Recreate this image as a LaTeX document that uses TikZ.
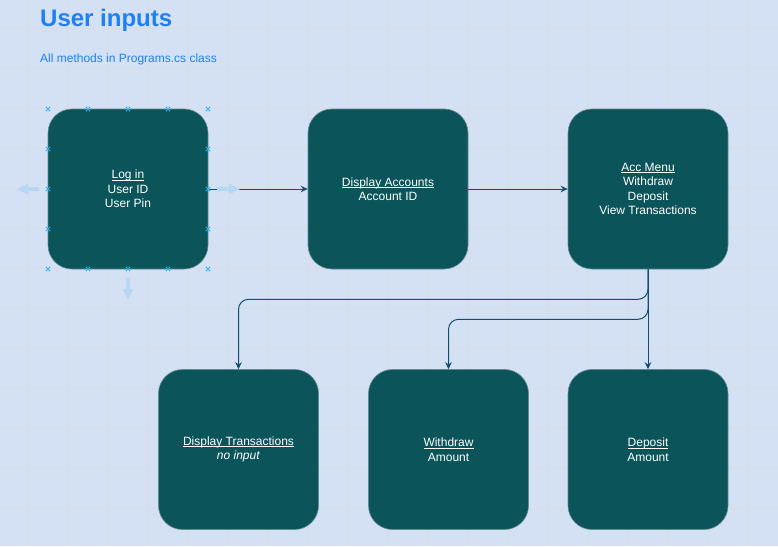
\documentclass[tikz,border=0pt]{standalone}
\usepackage{fontspec}
\setmainfont{Liberation Sans}
\usetikzlibrary{arrows.meta}
\definecolor{bgc}{HTML}{D4E1F5}
\definecolor{gridc}{HTML}{D8DCE3}
\definecolor{boxc}{HTML}{0B5459}
\definecolor{boxline}{HTML}{5F8C93}
\definecolor{linkc}{HTML}{124F6C}
\definecolor{titlec}{HTML}{1E80F2}
\definecolor{handlec}{HTML}{29B6F2}
\definecolor{hoverc}{HTML}{B6D8F3}
\newcommand\ulx[1]{\setbox0\hbox{#1}\rlap{\rule[-1.6pt]{\wd0}{0.6pt}}\box0}
\tikzset{
  stepbox/.style={rounded corners=24pt, minimum width=160pt, minimum height=160pt,
    fill=boxc, draw=boxline, line width=0.6pt, text=white, align=center, inner sep=0pt,
    font=\fontsize{12}{14.5}\selectfont},
  link/.style={draw=linkc, line width=1pt, -{Stealth[length=7pt,width=6.5pt]}},
  handle/.style={draw=handlec, line width=0.9pt},
  hover/.style={fill=hoverc, draw=none}
}
\begin{document}
\begin{tikzpicture}[x=1pt,y=-1pt]
\fill[bgc] (0,0) rectangle (778,546);
\useasboundingbox (0,0) rectangle (778,546);
% grid
\foreach \gx in {28,68,...,768} \draw[gridc, line width=0.8pt] (\gx,0) -- (\gx,546);
\foreach \gy in {28,68,...,546} \draw[gridc, line width=0.8pt] (0,\gy) -- (778,\gy);
% titles
\node[anchor=base west, inner sep=0pt, text=titlec, font=\fontsize{24}{28}\selectfont\bfseries] (title) at (40,27) {User inputs};
\node[anchor=base west, inner sep=0pt, text=titlec, font=\fontsize{12}{14}\selectfont] (sub) at (40,62) {All methods in Programs.cs class};
% boxes
\node[stepbox] (login) at (128,189) {\ulx{Log in}\\User ID\\User Pin};
\node[stepbox] (disp) at (388,189) {\ulx{Display Accounts}\\Account ID};
\node[stepbox] (acc) at (648,189) {\ulx{Acc Menu}\\Withdraw\\Deposit\\View Transactions};
\node[stepbox] (dt) at (238.5,449.5) {\ulx{Display Transactions}\\\textit{no input}};
\node[stepbox] (wd) at (448.5,449.5) {\ulx{Withdraw}\\Amount};
\node[stepbox] (dep) at (648,449.5) {\ulx{Deposit}\\Amount};
% connectors
\draw[link] (login.east) -- (disp.west);
\draw[link] (disp.east) -- (acc.west);
\draw[link] (acc.south) -- (dep.north);
\draw[link, rounded corners=10pt] (acc.south) -- ++(0,30) -| (dt.north);
\draw[link, rounded corners=10pt] (acc.south) -- ++(0,50) -| (wd.north);
% selection handles
\foreach \hx in {48,88,128,168,208} {
  \draw[handle] (\hx-2.2,106.8) -- (\hx+2.2,111.2) (\hx-2.2,111.2) -- (\hx+2.2,106.8);
  \draw[handle] (\hx-2.2,266.8) -- (\hx+2.2,271.2) (\hx-2.2,271.2) -- (\hx+2.2,266.8);
}
\foreach \hy in {149,189,229} {
  \draw[handle] (45.8,\hy-2.2) -- (50.2,\hy+2.2) (45.8,\hy+2.2) -- (50.2,\hy-2.2);
  \draw[handle] (205.8,\hy-2.2) -- (210.2,\hy+2.2) (205.8,\hy+2.2) -- (210.2,\hy-2.2);
}
% hover arrows
\fill[hover] (17,189) -- (28,183.5) -- (28,187) -- (39,187) -- (39,191) -- (28,191) -- (28,194.5) -- cycle;
\fill[hover] (240,189) -- (229,183.5) -- (229,187) -- (217,187) -- (217,191) -- (229,191) -- (229,194.5) -- cycle;
\fill[hover] (128,300) -- (122.5,289) -- (126,289) -- (126,278) -- (130,278) -- (130,289) -- (133.5,289) -- cycle;
\end{tikzpicture}
\end{document}
